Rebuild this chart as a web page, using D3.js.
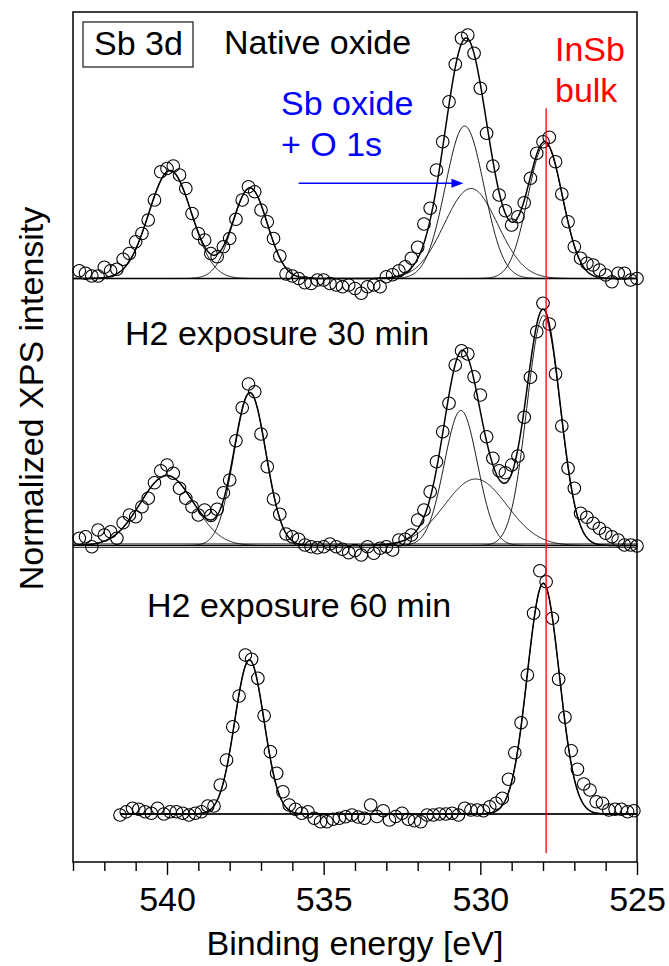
<!DOCTYPE html>
<html>
<head>
<meta charset="utf-8">
<script src="https://cdn.jsdelivr.net/npm/d3@7"></script>
<style>
  html, body { margin: 0; padding: 0; background: #fff; }
  svg text { font-family: "Liberation Sans", Arial, sans-serif; }
</style>
</head>
<body>
<svg id="chart" width="669" height="966"></svg>
<script>
// Sb 3d XPS spectra: native oxide and after H2 exposure (binding energy in eV)
const energyScanA = [
  542.8, 542.6, 542.4, 542.2, 542.0, 541.8, 541.6, 541.4, 541.2, 541.0,
  540.8, 540.6, 540.4, 540.2, 540.0, 539.8, 539.6, 539.4, 539.2, 539.0,
  538.8, 538.6, 538.4, 538.2, 538.0, 537.8, 537.6, 537.4, 537.2, 537.0,
  536.8, 536.6, 536.4, 536.2, 536.0, 535.8, 535.6, 535.4, 535.2, 535.0,
  534.8, 534.6, 534.4, 534.2, 534.0, 533.8, 533.6, 533.4, 533.2, 533.0,
  532.8, 532.6, 532.4, 532.2, 532.0, 531.8, 531.6, 531.4, 531.2, 531.0,
  530.8, 530.6, 530.4, 530.2, 530.0, 529.8, 529.6, 529.4, 529.2, 529.0,
  528.8, 528.6, 528.4, 528.2, 528.0, 527.8, 527.6, 527.4, 527.2, 527.0,
  526.8, 526.6, 526.4, 526.2, 526.0, 525.8, 525.6, 525.4, 525.2, 525.0
];
const energyScanB = [
  541.5, 541.3, 541.1, 540.9, 540.7, 540.5, 540.3, 540.1, 539.9, 539.7,
  539.5, 539.3, 539.1, 538.9, 538.7, 538.5, 538.3, 538.1, 537.9, 537.7,
  537.5, 537.3, 537.1, 536.9, 536.7, 536.5, 536.3, 536.1, 535.9, 535.7,
  535.5, 535.3, 535.1, 534.9, 534.7, 534.5, 534.3, 534.1, 533.9, 533.7,
  533.5, 533.3, 533.1, 532.9, 532.7, 532.5, 532.3, 532.1, 531.9, 531.7,
  531.5, 531.3, 531.1, 530.9, 530.7, 530.5, 530.3, 530.1, 529.9, 529.7,
  529.5, 529.3, 529.1, 528.9, 528.7, 528.5, 528.3, 528.1, 527.9, 527.7,
  527.5, 527.3, 527.1, 526.9, 526.7, 526.5, 526.3, 526.1, 525.9, 525.7,
  525.5, 525.3, 525.1
];

// measured intensities (background subtracted, normalized)
const nativeOxide = [
  0.031, 0.021, 0.010, 0.010, 0.045, 0.031, 0.037, 0.077, 0.100, 0.147,
  0.180, 0.234, 0.314, 0.427, 0.440, 0.450, 0.414, 0.360, 0.260, 0.180,
  0.154, 0.100, 0.087, 0.127, 0.160, 0.237, 0.314, 0.367, 0.347, 0.274,
  0.227, 0.160, 0.090, 0.018, 0.010, 0.000, -0.017, -0.020, -0.006, -0.006,
  -0.020, -0.026, -0.033, -0.026, -0.040, -0.059, -0.033, -0.026, -0.033, 0.007,
  0.015, 0.031, 0.047, 0.081, 0.125, 0.218, 0.281, 0.434, 0.547, 0.707,
  0.857, 0.961, 0.974, 0.901, 0.761, 0.581, 0.450, 0.334, 0.271, 0.214,
  0.247, 0.303, 0.401, 0.501, 0.547, 0.565, 0.467, 0.338, 0.227, 0.127,
  0.081, 0.061, 0.054, 0.034, 0.014, -0.013, 0.021, 0.021, -0.006, 0.000
];
const h2Exposure30 = [
  0.029, 0.035, -0.005, 0.062, 0.042, 0.055, 0.029, 0.091, 0.122, 0.115,
  0.155, 0.189, 0.251, 0.299, 0.322, 0.289, 0.229, 0.189, 0.155, 0.122,
  0.142, 0.120, 0.145, 0.211, 0.262, 0.419, 0.551, 0.646, 0.615, 0.446,
  0.315, 0.186, 0.125, 0.046, 0.035, 0.025, 0.002, -0.005, -0.009, -0.005,
  0.006, -0.005, -0.015, -0.029, -0.020, -0.038, -0.005, -0.031, -0.011, -0.005,
  -0.018, 0.022, 0.025, 0.042, 0.102, 0.142, 0.215, 0.335, 0.455, 0.569,
  0.722, 0.779, 0.766, 0.675, 0.602, 0.435, 0.349, 0.299, 0.291, 0.322,
  0.358, 0.513, 0.673, 0.855, 0.969, 0.886, 0.686, 0.478, 0.309, 0.229,
  0.129, 0.113, 0.089, 0.069, 0.049, 0.035, 0.022, 0.002, 0.002, -0.002
];
const h2Exposure60 = [
  -0.004, 0.009, 0.023, 0.019, 0.009, 0.003, 0.023, 0.000, 0.009, 0.009,
  0.003, -0.004, 0.003, 0.009, 0.032, 0.032, 0.116, 0.216, 0.349, 0.472,
  0.636, 0.619, 0.543, 0.393, 0.249, 0.163, 0.089, 0.036, 0.019, 0.003,
  0.009, -0.017, -0.031, -0.031, -0.021, -0.017, -0.011, -0.004, -0.012, -0.017,
  0.036, -0.010, 0.013, -0.024, -0.010, 0.003, -0.021, -0.027, -0.031, -0.004,
  -0.004, 0.000, 0.000, 0.003, -0.004, 0.023, 0.016, 0.016, 0.013, 0.029,
  0.043, 0.063, 0.139, 0.245, 0.365, 0.556, 0.803, 0.973, 0.929, 0.783,
  0.539, 0.387, 0.253, 0.179, 0.120, 0.096, 0.049, 0.043, 0.016, 0.019,
  0.019, 0.009, 0.013
];

// fitted Gaussian components: [centre eV, height, FWHM eV]
const peaksNative = [[539.9, 0.432, 1.6], [537.35, 0.362, 1.3], [530.5, 0.61, 1.45], [530.3, 0.36, 2.0], [527.93, 0.54, 1.3]];
const peaks30 = [[540.0, 0.28, 2.0], [537.35, 0.61, 1.2], [530.62, 0.54, 1.25], [530.15, 0.266, 2.35], [527.98, 0.92, 1.25]];
const peaks60 = [[537.37, 0.616, 1.1], [527.99, 0.923, 1.2]];

const panelLabels = ["Native oxide", "H2 exposure 30 min", "H2 exposure 60 min"];
const panelOffsets = [2.142, 1.074, 0];
const fitRanges = [[543, 525], [543, 525], [541.5, 525]];

const majorTicks = [540, 535, 530, 525];
const tickLabels = ["540", "535", "530", "525"];
const minorTicks = [543, 542, 541, 539, 538, 537, 536, 534, 533, 532, 531, 529, 528, 527, 526];
const bulkEnergy = 527.9;

const svg = d3.select("#chart");
const x = d3.scaleLinear().domain([543, 525]).range([73, 637]);
const y = d3.scaleLinear().domain([-0.192, 3.208]).range([862, 12]);
const FS = 34;

function gauss(e, p) {
  const d = (e - p[0]) / p[2];
  return p[1] * Math.exp(-4 * Math.LN2 * d * d);
}

const panels = [
  { e: energyScanA, v: nativeOxide, peaks: peaksNative },
  { e: energyScanA, v: h2Exposure30, peaks: peaks30 },
  { e: energyScanB, v: h2Exposure60, peaks: peaks60 }
];

const plot = svg.append("g");

panels.forEach((pn, i) => {
  const off = panelOffsets[i];
  const [e0, e1] = fitRanges[i];
  const grid = d3.range(Math.round((e0 - e1) / 0.02) + 1).map(k => e0 - k * 0.02);
  const line = d3.line().x(d => x(d[0])).y(d => y(d[1] + off));

  // background line(s)
  const bg = i === 1 ? [0.006, -0.007] : [0];
  bg.forEach(b => {
    plot.append("path").attr("d", line([[e0, b], [e1, b]]))
      .attr("fill", "none").attr("stroke", "#000").attr("stroke-width", i === 1 ? 1.1 : 1.4);
  });

  // components
  pn.peaks.forEach(p => {
    plot.append("path").attr("d", line(grid.map(e => [e, gauss(e, p)])))
      .attr("fill", "none").attr("stroke", "#000").attr("stroke-width", 0.9);
  });

  // envelope
  plot.append("path")
    .attr("d", line(grid.map(e => [e, d3.sum(pn.peaks, p => gauss(e, p))])))
    .attr("fill", "none").attr("stroke", "#000").attr("stroke-width", 1.5);

  // data points
  plot.append("g").selectAll("circle")
    .data(pn.e.map((e, k) => [e, pn.v[k]]))
    .join("circle")
    .attr("cx", d => x(d[0]))
    .attr("cy", d => y(d[1] + off))
    .attr("r", 6.3)
    .attr("fill", "none")
    .attr("stroke", "#000")
    .attr("stroke-width", 1.1);
});

// InSb bulk reference line
svg.append("line")
  .attr("x1", x(bulkEnergy)).attr("x2", x(bulkEnergy))
  .attr("y1", y(2.823)).attr("y2", y(-0.157))
  .attr("stroke", "#ff0000").attr("stroke-width", 1.3);

// frame
svg.append("rect")
  .attr("x", x(543)).attr("y", y(3.208))
  .attr("width", x(525) - x(543)).attr("height", y(-0.192) - y(3.208))
  .attr("fill", "none").attr("stroke", "#000").attr("stroke-width", 1.5);

// bottom axis
const axisMajor = d3.axisBottom(x).tickValues(majorTicks)
  .tickFormat((d, k) => tickLabels[k]).tickSize(13).tickPadding(12);
const gx = svg.append("g").attr("transform", `translate(0,${y(-0.192)})`).call(axisMajor);
gx.select(".domain").remove();
gx.selectAll("line").attr("stroke-width", 1.4);
gx.selectAll("text").attr("font-size", FS).attr("fill", "#000");
const axisMinor = d3.axisBottom(x).tickValues(minorTicks).tickFormat("").tickSize(9);
const gm = svg.append("g").attr("transform", `translate(0,${y(-0.192)})`).call(axisMinor);
gm.select(".domain").remove();
gm.selectAll("line").attr("stroke-width", 1.4);

// axis titles
svg.append("text").attr("x", (x(543) + x(525)) / 2).attr("y", 955)
  .attr("text-anchor", "middle").attr("font-size", FS).text("Binding energy [eV]");
svg.append("text").attr("transform", "translate(43,398.5) rotate(-90)")
  .attr("text-anchor", "middle").attr("font-size", FS).text("Normalized XPS intensity");

// panel labels
svg.append("rect").attr("x", 83).attr("y", 22).attr("width", 110).attr("height", 45)
  .attr("fill", "none").attr("stroke", "#000").attr("stroke-width", 1.1);
svg.append("text").attr("x", 94).attr("y", 55).attr("font-size", FS).text("Sb 3d");
const labelPos = [[224, 54], [125, 345], [147, 617]];
panelLabels.forEach((t, i) => {
  svg.append("text").attr("x", labelPos[i][0]).attr("y", labelPos[i][1])
    .attr("font-size", FS).text(t);
});

// oxide annotation with arrow
svg.append("text").attr("x", 281).attr("y", 115).attr("font-size", FS).attr("fill", "#0000ff").text("Sb oxide");
svg.append("text").attr("x", 281).attr("y", 156).attr("font-size", FS).attr("fill", "#0000ff").text("+ O 1s");
const ay = y(panelOffsets[0] + 0.381);
const ax0 = x(535.8), ax1 = x(530.54);
svg.append("line").attr("x1", ax0).attr("x2", ax1 - 8).attr("y1", ay).attr("y2", ay)
  .attr("stroke", "#0000ff").attr("stroke-width", 1.5);
svg.append("path").attr("d", `M${ax1},${ay} L${ax1 - 12},${ay - 4.5} L${ax1 - 12},${ay + 4.5} Z`)
  .attr("fill", "#0000ff");

// bulk annotation
svg.append("text").attr("x", 555).attr("y", 61).attr("font-size", FS).attr("fill", "#ff0000").text("InSb");
svg.append("text").attr("x", 555).attr("y", 102).attr("font-size", FS).attr("fill", "#ff0000").text("bulk");
</script>
</body>
</html>
